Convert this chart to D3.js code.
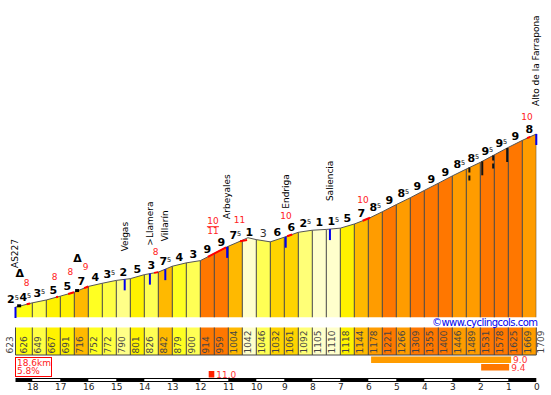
<!DOCTYPE html>
<html>
<head>
<meta charset="utf-8">
<script src="https://cdn.jsdelivr.net/npm/d3@7"></script>
<style>
  body { margin: 0; background: #fff; }
  text { font-family: "DejaVu Sans", sans-serif; }
</style>
</head>
<body>
<div id="perfil"></div>
<script>
// Perfil: km restantes y altitud de cada punto
const kms = [18.6, 18.5, 18, 17.5, 17, 16.5, 16, 15.5, 15, 14.5, 14, 13.5, 13, 12.5, 12, 11.5, 11, 10.5, 10, 9.5, 9, 8.5, 8, 7.5, 7, 6.5, 6, 5.5, 5, 4.5, 4, 3.5, 3, 2.5, 2, 1.5, 1, 0.5, 0];
const altitudes = [623, 626, 649, 667, 691, 716, 752, 772, 790, 801, 826, 842, 879, 900, 914, 959, 1004, 1042, 1046, 1032, 1061, 1092, 1105, 1110, 1118, 1144, 1178, 1221, 1266, 1309, 1355, 1400, 1446, 1489, 1531, 1578, 1625, 1669, 1709];
const pendientes = [2.5, 4.5, 3.5, 5, 5, 7, 4, 3.5, 2, 5, 3, 7.5, 4, 3, 9, 9, 7.5, 1, 3, 6, 6, 2.5, 1, 1.5, 5, 7, 8.5, 9, 8.5, 9, 9, 9, 8.5, 8.5, 9.5, 9.5, 9, 8];
// Pequeño pico dentro del tramo 10.5-10
const picoKm = 10.3;
const picoAlt = 1058;

const pasosPendiente = [1, 1.5, 2, 2.5, 3, 3.5, 4, 4.5, 5, 6, 7, 7.5, 8, 8.5, 9, 9.5];
const coloresPendiente = ["#ffffcc", "#ffffcc", "#ffff88", "#ffff77", "#ffff55", "#ffff44", "#ffff22", "#ffff11", "#fff200", "#ffd400", "#ffb900", "#ffb900", "#ff9c00", "#ff9c00", "#ff7700", "#ff7700"];

// Tramos duros marcados en rojo sobre la línea
const rojoDesde = [18.2, 17.15, 16.72, 16.15, 13.65, 11.73, 10.58, 8.9, 6.2, 0.33];
const rojoHasta = [18.08, 17.08, 16.51, 16, 13.5, 11.08, 10.33, 8.72, 5.94, 0.22];
const rojoTextoKm = [18.2, 17.2, 16.64, 16.1, 13.6, 10.6, 8.94, 6.19, 0.33];
const rojoTexto = ["8", "8", "8", "9", "8", "11", "10", "10", "10"];
const fraccionKm = 11.55;
const fraccionTexto = ["10", "11"];

// Lugares con su marca azul
const lugaresKm = [18.6, 14.7, 13.8, 13.25, 11.04, 8.95, 7.37, 0];
const lugares = ["AS227", "Veigas", ">Llamera", "Villarín", "Arbeyales", "Endriga", "Saliencia", "Alto de la Farrapona"];
const tunelKm = [18.47, 16.4];
const negrasKm = [2.39, 1.93, 1.54, 1.04];
const negrasDiscontinua = [true, false, true, false];

// Barras de tramos largos
const tramoDesde = [5.9, 1.97, 11.7];
const tramoHasta = [0.9, 0.97, 11.5];
const tramoTexto = ["9.0", "9.4", "11.0"];
const tramoColor = ["#ff9c00", "#ff7700", "#ff2200"];

const kmTicks = [18, 17, 16, 15, 14, 13, 12, 11, 10, 9, 8, 7, 6, 5, 4, 3, 2, 1, 0];
const kmBlancos = [18, 16, 14, 12, 10, 8, 6, 4, 2];

const svg = d3.select("#perfil").append("svg")
    .attr("width", 551)
    .attr("height", 395);

const x = d3.scaleLinear().domain([18, 0]).range([32.3, 536.3]);
const y = d3.scaleLinear().domain([623, 1709]).range([307, 134]);
const color = d3.scaleOrdinal().domain(pasosPendiente).range(coloresPendiente);
const alt = d3.scaleLinear().domain(kms).range(altitudes);

const base = 317.5;
const tablaTop = 327.5;
const tablaBottom = 355;

// Puntos de la línea, con el pico metido en su sitio
const puntos = kms.map((k, i) => ({km: k, alt: altitudes[i]}));
puntos.splice(18, 0, {km: picoKm, alt: picoAlt});

const area = d3.area()
    .x(d => x(d.km))
    .y0(base)
    .y1(d => y(d.alt));
const linea = d3.line()
    .x(d => x(d.km))
    .y(d => y(d.alt));

svg.append("clipPath").attr("id", "recorte")
    .append("path").attr("d", area(puntos));

// El primer tramo (0.1 km) va unido al siguiente
const celdas = kms.slice(1, -1).map((k, i) => ({
    desde: i === 0 ? kms[0] : k,
    hasta: kms[i + 2],
    pend: pendientes[i + 1]
}));

svg.append("g").attr("clip-path", "url(#recorte)")
    .selectAll("rect").data(celdas).join("rect")
    .attr("x", d => x(d.desde))
    .attr("width", d => x(d.hasta) - x(d.desde))
    .attr("y", 100)
    .attr("height", base - 100)
    .attr("fill", d => color(d.pend));

svg.append("g").attr("clip-path", "url(#recorte)")
    .selectAll("line").data(kms.filter(k => k !== 18.6 && k !== 18.5)).join("line")
    .attr("x1", d => x(d)).attr("x2", d => x(d))
    .attr("y1", 100).attr("y2", base)
    .attr("stroke", "#444");

svg.append("path")
    .attr("d", linea(puntos))
    .attr("fill", "none")
    .attr("stroke", "#555")
    .attr("stroke-width", 1);

// Tramos rojos
svg.append("g").selectAll("line").data(rojoDesde).join("line")
    .attr("x1", d => x(d))
    .attr("y1", d => y(alt(d)))
    .attr("x2", (d, i) => x(rojoHasta[i]))
    .attr("y2", (d, i) => y(alt(rojoHasta[i])))
    .attr("stroke", "#ff0000")
    .attr("stroke-width", 2);

// Marcas azules y negras
svg.append("g").selectAll("line").data(lugaresKm).join("line")
    .attr("x1", d => x(d)).attr("x2", d => x(d))
    .attr("y1", d => y(alt(d)))
    .attr("y2", d => y(alt(d)) + 11)
    .attr("stroke", "#0000ee")
    .attr("stroke-width", 2);

svg.append("g").selectAll("line").data(negrasKm).join("line")
    .attr("x1", d => x(d)).attr("x2", d => x(d))
    .attr("y1", d => y(alt(d)))
    .attr("y2", d => y(alt(d)) + 14)
    .attr("stroke", "#111")
    .attr("stroke-width", 2)
    .attr("stroke-dasharray", (d, i) => negrasDiscontinua[i] ? "5 3" : null);

svg.append("g").selectAll("rect").data(tunelKm).join("rect")
    .attr("x", d => x(d) - 2)
    .attr("y", d => y(alt(d)) - 2)
    .attr("width", 4)
    .attr("height", 3)
    .attr("fill", "#000");

svg.append("g").selectAll("text").data(tunelKm).join("text")
    .attr("x", d => x(d) + 0.5)
    .attr("y", d => y(alt(d)) - 29)
    .attr("text-anchor", "middle")
    .attr("font-size", 11)
    .attr("font-weight", "bold")
    .attr("fill", "#000")
    .text("Δ");

// Pendientes sobre cada tramo
const etiquetas = svg.append("g").selectAll("text").data(pendientes).join("text")
    .attr("x", (d, i) => (x(kms[i]) + x(kms[i + 1])) / 2 - (i === 0 ? 4 : 0))
    .attr("y", (d, i) => y(alt((kms[i] + kms[i + 1]) / 2)) - 4)
    .attr("text-anchor", "middle")
    .attr("font-size", 11)
    .attr("font-weight", (d, i) => i === 18 ? "normal" : "bold")
    .attr("fill", (d, i) => i === 18 ? "#333" : "#000");
etiquetas.append("tspan").text(d => Math.floor(d));
etiquetas.filter(d => d % 1 !== 0).append("tspan")
    .attr("font-size", 6.5)
    .attr("font-weight", "normal")
    .attr("dy", -3)
    .text("5");

// Textos rojos
svg.append("g").selectAll("text").data(rojoTexto).join("text")
    .attr("x", (d, i) => x(rojoTextoKm[i]))
    .attr("y", (d, i) => y(alt(rojoTextoKm[i])) - 18)
    .attr("text-anchor", "middle")
    .attr("font-size", 9)
    .attr("fill", "#ff2222")
    .text(d => d);

const fx = x(fraccionKm);
const fy = y(alt(fraccionKm));
svg.append("g").selectAll("text").data(fraccionTexto).join("text")
    .attr("x", fx)
    .attr("y", (d, i) => fy - 30 + i * 9.5)
    .attr("text-anchor", "middle")
    .attr("font-size", 9)
    .attr("fill", "#ff2222")
    .text(d => d);
svg.append("line")
    .attr("x1", fx - 6).attr("x2", fx + 6)
    .attr("y1", fy - 27.5).attr("y2", fy - 27.5)
    .attr("stroke", "#ff2222");

// Nombres en vertical
svg.append("g").selectAll("text").data(lugares).join("text")
    .attr("transform", (d, i) => {
        const px = x(lugaresKm[i]) + (i === 0 ? 2 : 3);
        const py = y(alt(lugaresKm[i])) - (i === 0 ? 39 : 28);
        return `translate(${px},${py}) rotate(-90)`;
    })
    .attr("font-size", 9)
    .attr("fill", "#000")
    .text(d => d);

// Tabla de altitudes
svg.append("g").selectAll("rect").data(celdas).join("rect")
    .attr("x", d => x(d.desde))
    .attr("width", d => x(d.hasta) - x(d.desde))
    .attr("y", tablaTop)
    .attr("height", tablaBottom - tablaTop)
    .attr("fill", d => color(d.pend));

svg.append("g").selectAll("line").data(kms.filter(k => k !== 18.5)).join("line")
    .attr("x1", d => x(d)).attr("x2", d => x(d))
    .attr("y1", tablaTop).attr("y2", tablaBottom)
    .attr("stroke", "#444");

svg.append("line")
    .attr("x1", x(kms[0])).attr("x2", x(0))
    .attr("y1", tablaBottom).attr("y2", tablaBottom)
    .attr("stroke", "#444");

svg.append("g").selectAll("text").data(altitudes).join("text")
    .attr("transform", (d, i) => {
        const px = x(kms[i]) + (i === 0 ? -3 : i === altitudes.length - 1 ? 8 : 9);
        return `translate(${px},353.5) rotate(-90)`;
    })
    .attr("font-size", 9)
    .attr("fill", "#444")
    .text(d => d);

svg.append("text")
    .attr("x", 432)
    .attr("y", 326)
    .attr("font-size", 10)
    .attr("textLength", 106)
    .attr("fill", "#0000ee")
    .text("©www.cyclingcols.com");

// Recuadro con longitud y pendiente media
svg.append("rect")
    .attr("x", x(kms[0])).attr("y", 357.5)
    .attr("width", 36).attr("height", 19)
    .attr("fill", "#fff")
    .attr("stroke", "#ff0000");
svg.append("g").selectAll("text").data(["18.6km", "5.8%"]).join("text")
    .attr("x", x(kms[0]) + 1.5)
    .attr("y", (d, i) => 366 + i * 8.3)
    .attr("font-size", 9)
    .attr("fill", "#ff2222")
    .text(d => d);

// Barras de tramos
const tramoY = [356.5, 364, 371];
svg.append("g").selectAll("rect").data(tramoDesde).join("rect")
    .attr("x", d => x(d))
    .attr("width", (d, i) => x(tramoHasta[i]) - x(d))
    .attr("y", (d, i) => tramoY[i])
    .attr("height", 6.5)
    .attr("fill", (d, i) => tramoColor[i]);
svg.append("g").selectAll("text").data(tramoTexto).join("text")
    .attr("x", (d, i) => x(tramoHasta[i]) + 2)
    .attr("y", (d, i) => tramoY[i] + 6.5)
    .attr("font-size", 9)
    .attr("fill", "#ff3333")
    .text(d => d);

// Escala de km
svg.append("rect")
    .attr("x", x(kms[0])).attr("width", x(0) - x(kms[0]))
    .attr("y", 378).attr("height", 4)
    .attr("fill", "#000");
svg.append("g").selectAll("rect").data(kmBlancos).join("rect")
    .attr("x", d => x(d))
    .attr("width", d => x(d - 1) - x(d))
    .attr("y", 379).attr("height", 2)
    .attr("fill", "#fff");

const ejeKm = svg.append("g")
    .attr("transform", "translate(0,382)")
    .call(d3.axisBottom(x).tickValues(kmTicks).tickFormat(d3.format("d")).tickSize(0).tickPadding(2));
ejeKm.select(".domain").remove();
ejeKm.selectAll("text")
    .attr("font-size", 9)
    .attr("font-family", "DejaVu Sans")
    .attr("fill", "#222");
</script>
</body>
</html>
